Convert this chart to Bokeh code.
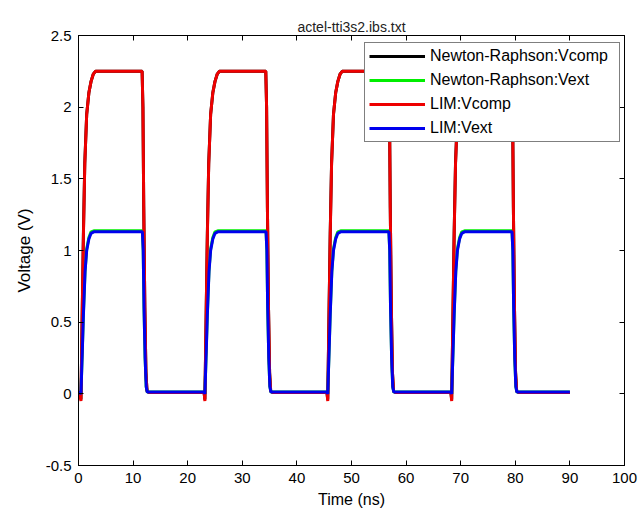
from bokeh.plotting import figure
from bokeh.models import (Range1d, LinearAxis, FixedTicker, Legend, LegendItem)
from bokeh.embed import file_html
from bokeh.resources import INLINE

# ---------------- data ----------------
title_text = "actel-tti3s2.ibs.txt"
x_label = "Time (ns)"
y_label = "Voltage (V)"

x_ticks = [0, 10, 20, 30, 40, 50, 60, 70, 80, 90, 100]
x_tick_labels = ["0", "10", "20", "30", "40", "50", "60", "70", "80", "90", "100"]
y_ticks = [-0.5, 0, 0.5, 1, 1.5, 2, 2.5]
y_tick_labels = ["-0.5", "0", "0.5", "1", "1.5", "2", "2.5"]

series_names = ["Newton-Raphson:Vcomp", "Newton-Raphson:Vext", "LIM:Vcomp", "LIM:Vext"]

# Vcomp time points (ns)
t_vcomp = [0.0, 0.3, 0.45, 0.7, 0.9, 1.15, 1.5, 1.9, 2.3, 2.7, 3.1, 6.0, 9.0,
           11.65, 11.8, 11.95, 12.15, 12.35, 12.55, 12.95, 18.0,
           23.0, 23.15, 23.4, 23.6, 23.85, 24.2, 24.6, 25.0, 25.4, 25.8, 30.0,
           34.3, 34.45, 34.6, 34.8, 35.0, 35.2, 35.6, 40.0,
           45.5, 45.65, 45.9, 46.1, 46.35, 46.7, 47.1, 47.5, 47.9, 48.3, 52.0,
           56.8, 56.95, 57.1, 57.3, 57.5, 57.7, 58.1, 63.0,
           68.2, 68.35, 68.6, 68.8, 69.05, 69.4, 69.8, 70.2, 70.6, 71.0, 75.0,
           79.35, 79.5, 79.65, 79.85, 80.05, 80.25, 80.65, 90.0]
lim_vcomp = [0.0, 0.0, -0.05, 0.6, 1.1, 1.6, 1.95, 2.1, 2.18, 2.23, 2.25, 2.25, 2.25,
             2.25, 2.0, 1.3, 0.6, 0.15, 0.02, 0.01, 0.01,
             0.01, -0.05, 0.6, 1.1, 1.6, 1.95, 2.1, 2.18, 2.23, 2.25, 2.25,
             2.25, 2.0, 1.3, 0.6, 0.15, 0.02, 0.01, 0.01,
             0.01, -0.05, 0.6, 1.1, 1.6, 1.95, 2.1, 2.18, 2.23, 2.25, 2.25,
             2.25, 2.0, 1.3, 0.6, 0.15, 0.02, 0.01, 0.01,
             0.01, -0.05, 0.6, 1.1, 1.6, 1.95, 2.1, 2.18, 2.23, 2.25, 2.25,
             2.25, 2.0, 1.3, 0.6, 0.15, 0.02, 0.01, 0.01]
nr_vcomp = [0.0, 0.0, -0.04, 0.62, 1.12, 1.61, 1.95, 2.1, 2.18, 2.23, 2.25, 2.25, 2.25,
            2.25, 2.0, 1.3, 0.6, 0.15, 0.02, 0.01, 0.01,
            0.01, -0.04, 0.62, 1.12, 1.61, 1.95, 2.1, 2.18, 2.23, 2.25, 2.25,
            2.25, 2.0, 1.3, 0.6, 0.15, 0.02, 0.01, 0.01,
            0.01, -0.04, 0.62, 1.12, 1.61, 1.95, 2.1, 2.18, 2.23, 2.25, 2.25,
            2.25, 2.0, 1.3, 0.6, 0.15, 0.02, 0.01, 0.01,
            0.01, -0.04, 0.62, 1.12, 1.61, 1.95, 2.1, 2.18, 2.23, 2.25, 2.25,
            2.25, 2.0, 1.3, 0.6, 0.15, 0.02, 0.01, 0.01]

# Vext time points (ns)
t_vext = [0.0, 0.3, 0.45, 0.7, 0.9, 1.2, 1.5, 1.9, 2.3, 2.8, 7.0,
          11.7, 11.85, 12.0, 12.2, 12.4, 12.6, 18.0,
          23.0, 23.15, 23.4, 23.6, 23.9, 24.2, 24.6, 25.0, 25.5, 30.0,
          34.35, 34.5, 34.65, 34.85, 35.05, 35.25, 40.0,
          45.5, 45.65, 45.9, 46.1, 46.4, 46.7, 47.1, 47.5, 48.0, 52.0,
          56.85, 57.0, 57.15, 57.35, 57.55, 57.75, 63.0,
          68.2, 68.35, 68.6, 68.8, 69.1, 69.4, 69.8, 70.2, 70.7, 75.0,
          79.4, 79.55, 79.7, 79.9, 80.1, 80.3, 90.0]
lim_vext = [0.01, 0.005, 0.0, 0.3, 0.55, 0.85, 1.0, 1.08, 1.12, 1.13, 1.13,
            1.13, 1.0, 0.6, 0.25, 0.05, 0.012, 0.012,
            0.012, 0.0, 0.3, 0.55, 0.85, 1.0, 1.08, 1.12, 1.13, 1.13,
            1.13, 1.0, 0.6, 0.25, 0.05, 0.012, 0.012,
            0.012, 0.0, 0.3, 0.55, 0.85, 1.0, 1.08, 1.12, 1.13, 1.13,
            1.13, 1.0, 0.6, 0.25, 0.05, 0.012, 0.012,
            0.012, 0.0, 0.3, 0.55, 0.85, 1.0, 1.08, 1.12, 1.13, 1.13,
            1.13, 1.0, 0.6, 0.25, 0.05, 0.012, 0.012]
nr_vext = [0.01, 0.005, 0.0, 0.31, 0.56, 0.86, 1.01, 1.09, 1.13, 1.137, 1.137,
           1.137, 1.0, 0.6, 0.25, 0.05, 0.012, 0.012,
           0.012, 0.0, 0.31, 0.56, 0.86, 1.01, 1.09, 1.13, 1.137, 1.137,
           1.137, 1.0, 0.6, 0.25, 0.05, 0.012, 0.012,
           0.012, 0.0, 0.31, 0.56, 0.86, 1.01, 1.09, 1.13, 1.137, 1.137,
           1.137, 1.0, 0.6, 0.25, 0.05, 0.012, 0.012,
           0.012, 0.0, 0.31, 0.56, 0.86, 1.01, 1.09, 1.13, 1.137, 1.137,
           1.137, 1.0, 0.6, 0.25, 0.05, 0.012, 0.012]

# ---------------- figure ----------------
FONT = "Liberation Sans"

p = figure(width=641, height=510, output_backend="svg", toolbar_location=None,
           x_range=Range1d(0, 100), y_range=Range1d(-0.5, 2.5),
           min_border_left=78, min_border_right=17, min_border_top=35,
           min_border_bottom=45, x_axis_label=x_label, y_axis_label=y_label)

p.background_fill_color = "white"
p.border_fill_color = "white"
p.outline_line_color = "black"
p.outline_line_width = 1
p.xgrid.visible = False
p.ygrid.visible = False

p.title.text = title_text
p.title.align = "center"
p.title.text_font = FONT
p.title.text_font_style = "normal"
p.title.text_font_size = "14px"
p.title.text_color = "#222222"
p.title.standoff = 2

for ax, ticks, labels in ((p.xaxis[0], x_ticks, x_tick_labels),
                          (p.yaxis[0], y_ticks, y_tick_labels)):
    ax.ticker = FixedTicker(ticks=ticks)
    ax.major_label_overrides = {t: l for t, l in zip(ticks, labels)}
    ax.major_tick_in = 5
    ax.major_tick_out = 0
    ax.minor_tick_line_color = None
    ax.axis_line_color = "black"
    ax.major_tick_line_color = "black"
    ax.major_label_text_font = FONT
    ax.major_label_text_font_size = "15px"
    ax.major_label_text_color = "black"
    ax.axis_label_text_font = FONT
    ax.axis_label_text_font_style = "normal"
    ax.axis_label_text_color = "black"

p.xaxis[0].major_label_standoff = 7
p.xaxis[0].axis_label_standoff = 5
p.xaxis[0].axis_label_text_font_size = "16px"
p.yaxis[0].major_label_standoff = 7
p.yaxis[0].axis_label_standoff = 9
p.yaxis[0].axis_label_text_font_size = "17px"

# box ticks on top and right (no labels)
top_ax = LinearAxis(ticker=FixedTicker(ticks=x_ticks), major_tick_in=5, major_tick_out=0,
                    minor_tick_line_color=None, major_label_text_color=None,
                    major_label_text_font_size="1px",
                    major_label_standoff=0, axis_line_color="black")
right_ax = LinearAxis(ticker=FixedTicker(ticks=y_ticks), major_tick_in=5, major_tick_out=0,
                      minor_tick_line_color=None, major_label_text_color=None,
                      major_label_text_font_size="1px",
                      major_label_standoff=0, axis_line_color="black")
p.add_layout(top_ax, "above")
p.add_layout(right_ax, "right")

colors = ["black", "#00ee00", "#ee0000", "#0000ee"]
r_nr_c = p.line(t_vcomp, nr_vcomp, line_color=colors[0], line_width=3)
r_nr_e = p.line(t_vext, nr_vext, line_color=colors[1], line_width=3)
r_lim_c = p.line(t_vcomp, lim_vcomp, line_color=colors[2], line_width=3)
r_lim_e = p.line(t_vext, lim_vext, line_color=colors[3], line_width=3)

legend = Legend(items=[LegendItem(label=n, renderers=[r]) for n, r in
                       zip(series_names, [r_nr_c, r_nr_e, r_lim_c, r_lim_e])],
                location=(286, 323))
legend.border_line_color = "black"
legend.border_line_width = 1
legend.background_fill_color = "white"
legend.background_fill_alpha = 1
legend.glyph_width = 56
legend.glyph_height = 18
legend.label_height = 18
legend.label_width = 185
legend.label_standoff = 5
legend.spacing = 6
legend.padding = 4
legend.margin = 0
legend.label_text_font = FONT
legend.label_text_font_size = "16px"
legend.label_text_color = "black"
p.add_layout(legend)

open("out.html", "w").write(file_html(p, INLINE))
